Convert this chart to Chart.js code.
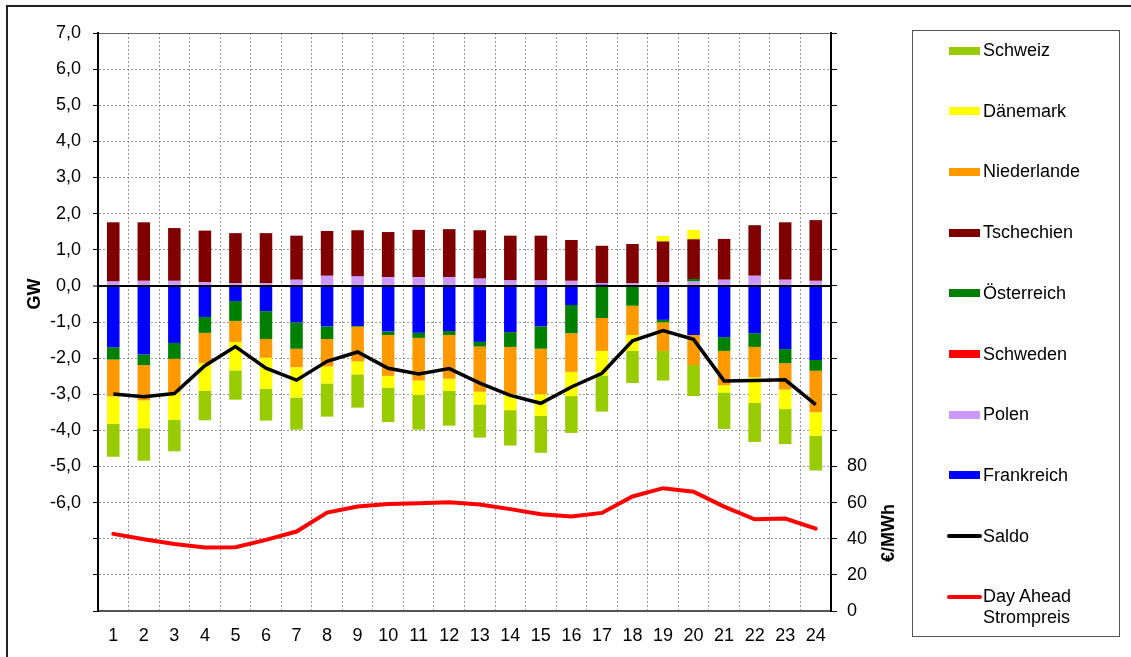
<!DOCTYPE html>
<html>
<head>
<meta charset="utf-8">
<script src="https://cdn.jsdelivr.net/npm/chart.js@4.4.1/dist/chart.umd.min.js"></script>
<style>
  html, body { margin:0; padding:0; background:#fff; overflow:hidden; }
  body { width:1131px; height:657px; position:relative; font-family:"Liberation Sans", Arial, sans-serif; }
  #frame { position:absolute; left:6px; top:5px; width:1160px; height:700px; border:2px solid #222; box-sizing:border-box; }
  #c { position:absolute; left:0; top:0; }
  #legend { position:absolute; left:912px; top:30px; width:208px; height:607px; border:1.5px solid #555; box-sizing:border-box; }
  .item { position:absolute; left:947px; height:21px; }
  .sw { position:absolute; left:2px; width:31px; }
  .ln { position:absolute; left:0; width:35px; height:4px; border-radius:2px; }
  .tx { position:absolute; left:36px; top:0; line-height:21px; font-size:18px; color:#000; white-space:pre; }
</style>
</head>
<body>
<div id="frame"></div>
<canvas id="c" width="1131" height="657"></canvas>
<div id="legend"></div>
<script>
const hours = ['1','2','3','4','5','6','7','8','9','10','11','12','13','14','15','16','17','18','19','20','21','22','23','24'];

const frankreich  = [-1.70,-1.90,-1.58,-0.86,-0.42,-0.70,-1.01,-1.12,-1.11,-1.26,-1.30,-1.25,-1.55,-1.28,-1.12,-0.53,0.04,0,-0.94,-1.36,-1.42,-1.31,-1.75,-2.05];
const polen       = [0.12,0.14,0.14,0.10,0.07,0.07,0.17,0.28,0.26,0.24,0.24,0.24,0.20,0.15,0.15,0.14,0.04,0.07,0.10,0.12,0.17,0.28,0.17,0.14];
const schweden    = [0,0,0,0,0,0,0,0,0,0,0,0,0,0,0,0,0,0,0,0,0,0,0,0];
const oesterreich = [-0.34,-0.29,-0.44,-0.44,-0.55,-0.77,-0.73,-0.35,-0.02,-0.10,-0.14,-0.11,-0.13,-0.41,-0.62,-0.78,-0.89,-0.55,-0.07,0.07,-0.38,-0.38,-0.39,-0.30];
const tschechien  = [1.64,1.62,1.46,1.43,1.39,1.39,1.22,1.24,1.28,1.25,1.31,1.33,1.34,1.24,1.24,1.13,1.03,1.09,1.13,1.10,1.13,1.40,1.59,1.68];
const niederlande = [-1.02,-0.98,-0.93,-0.84,-0.58,-0.52,-0.51,-0.76,-0.96,-1.13,-1.18,-1.21,-1.25,-1.31,-1.26,-1.07,-0.91,-0.81,-0.79,-0.83,-0.95,-0.84,-0.73,-1.15];
const daenemark   = [-0.76,-0.77,-0.76,-0.76,-0.79,-0.86,-0.84,-0.47,-0.36,-0.33,-0.40,-0.34,-0.35,-0.44,-0.60,-0.67,-0.68,-0.44,0.15,0.26,-0.20,-0.71,-0.54,-0.65];
const schweiz     = [-0.91,-0.90,-0.87,-0.82,-0.81,-0.88,-0.89,-0.92,-0.92,-0.95,-0.96,-0.96,-0.92,-0.98,-1.02,-1.02,-1.00,-0.89,-0.82,-0.86,-1.01,-1.08,-0.97,-0.96];
const saldo       = [-2.99,-3.07,-2.98,-2.21,-1.68,-2.28,-2.61,-2.09,-1.83,-2.28,-2.44,-2.29,-2.69,-3.03,-3.25,-2.80,-2.42,-1.52,-1.24,-1.48,-2.63,-2.62,-2.60,-3.29];
const preis       = [42.7,39.7,37.1,35.1,35.3,39.4,44.0,54.5,57.8,59.3,59.7,60.2,58.9,56.4,53.6,52.3,54.3,63.4,68.0,66.0,57.8,50.8,51.2,45.6];

const yTitle = 'GW';
const y2Title = '€/MWh';
const yLabelMin = -6;
const y2LabelMax = 80;

const FONT = '"Liberation Sans", Arial, sans-serif';

function bar(label, data, color) {
  return { type:'bar', label, data, backgroundColor:color, borderWidth:0, order:1,
           barPercentage:0.41, categoryPercentage:1, yAxisID:'y' };
}

const datasets = [
  bar('Frankreich', frankreich, '#0000FF'),
  bar('Polen', polen, '#CC99FF'),
  bar('Schweden', schweden, '#FF0000'),
  bar('Österreich', oesterreich, '#008000'),
  bar('Tschechien', tschechien, '#800000'),
  bar('Niederlande', niederlande, '#FF9900'),
  bar('Dänemark', daenemark, '#FFFF00'),
  bar('Schweiz', schweiz, '#99CC00'),
  { type:'line', label:'Saldo', data:saldo, borderColor:'#000000', backgroundColor:'#000000',
    borderWidth:3.5, pointRadius:0, tension:0, order:0, yAxisID:'y', stack:'saldo', fill:false },
  { type:'line', label:'Day Ahead\nStrompreis', data:preis, borderColor:'#FF0000', backgroundColor:'#FF0000',
    borderWidth:4, pointRadius:0, tension:0, order:0, yAxisID:'y2', fill:false, borderCapStyle:'round' }
];

const titlePlugin = {
  id:'axisTitles',
  afterDraw(chart) {
    const ctx = chart.ctx;
    ctx.save();
    ctx.font = 'bold 18px ' + FONT;
    ctx.fillStyle = '#000';
    ctx.textAlign = 'center';
    ctx.textBaseline = 'middle';
    ctx.translate(35, 294);
    ctx.rotate(-Math.PI/2);
    ctx.fillText(yTitle, 0, 0);
    ctx.restore();
    ctx.save();
    ctx.font = 'bold 18px ' + FONT;
    ctx.fillStyle = '#000';
    ctx.textAlign = 'center';
    ctx.textBaseline = 'middle';
    ctx.translate(889, 533);
    ctx.rotate(-Math.PI/2);
    ctx.fillText(y2Title, 0, 0);
    ctx.restore();
  }
};

const chart = new Chart(document.getElementById('c'), {
  data: { labels: hours, datasets },
  options: {
    responsive:false, animation:false, devicePixelRatio:1,
    layout: { padding: { left:0, right:240, top:33, bottom:0 } },
    plugins: { legend:{display:false}, tooltip:{enabled:false} },
    scales: {
      x: {
        stacked:true, offset:true,
        grid: { offset:true, color:'#999', lineWidth:1, drawTicks:false },
        border: { color:'#555', width:2, dash:[2,2] },
        ticks: { color:'#000', font:{ size:18, family:FONT }, padding:14, maxRotation:0, autoSkip:false },
        afterFit(s){ s.height = 46; }
      },
      y: {
        stacked:true, min:-9, max:7, position:'left',
        ticks: { stepSize:1, color:'#000', font:{ size:18, family:FONT }, padding:12,
                 callback:(v)=> v >= yLabelMin ? v.toFixed(1).replace('.', ',') : '' },
        grid: {
          color:(c)=> c.tick && c.tick.value === 0 ? '#000' : (c.tick && c.tick.value === 7 ? '#666' : '#999'),
          lineWidth:(c)=> c.tick && c.tick.value === 0 ? 2 : 1,
          tickLength:5, tickColor:'#000', tickWidth:1
        },
        border: { color:'#000', width:2, dash:(c)=> (c.tick && (c.tick.value === 0 || c.tick.value === 7)) ? [] : [2,2] },
        afterFit(s){ s.width = 98; }
      },
      y2: {
        min:0, max:320, position:'right',
        ticks: { stepSize:20, color:'#000', font:{ size:18, family:FONT }, padding:10,
                 callback:(v)=> v <= y2LabelMax ? String(v) : '' },
        grid: { drawOnChartArea:false, tickLength:6, tickColor:'#000', tickWidth:1 },
        border: { color:'#000', width:2 },
        afterFit(s){ s.width = 60; }
      }
    }
  },
  plugins:[titlePlugin]
});

// HTML legend built from the chart datasets
const legendOrder = chart.data.datasets.filter(d=>d.type==='bar').slice().reverse()
  .concat(chart.data.datasets.filter(d=>d.type==='line'));
const firstCenter = 50.5, step = 60.7;
legendOrder.forEach((d, i) => {
  const cy = firstCenter + i*step;
  const item = document.createElement('div');
  item.className = 'item';
  item.style.top = (cy - 10.5) + 'px';
  const sw = document.createElement('div');
  if (d.type === 'bar') {
    sw.className = 'sw';
    sw.style.height = '8px';
    sw.style.top = '6.5px';
    sw.style.background = d.backgroundColor;
  } else {
    sw.className = 'ln';
    sw.style.top = '8.5px';
    sw.style.background = d.borderColor;
  }
  item.appendChild(sw);
  const tx = document.createElement('div');
  tx.className = 'tx';
  tx.textContent = d.label;
  item.appendChild(tx);
  document.body.appendChild(item);
});
</script>
</body>
</html>
